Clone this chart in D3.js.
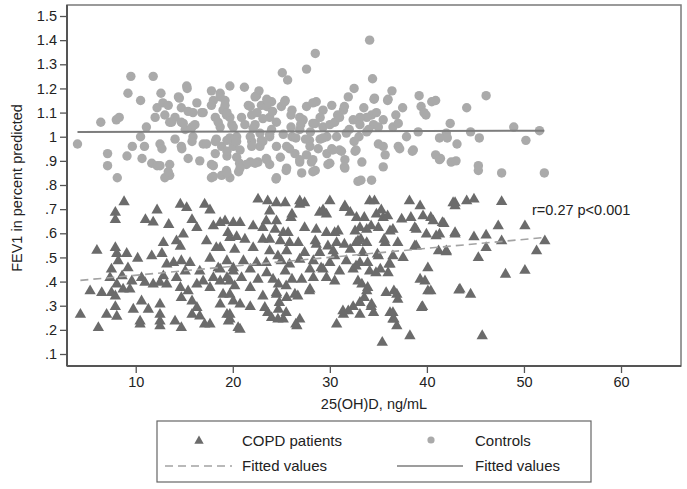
<!DOCTYPE html>
<html><head><meta charset="utf-8">
<script src="https://cdn.jsdelivr.net/npm/d3@7"></script>
<style>body{margin:0;background:#fff}svg{display:block}text{font-family:"Liberation Sans",Arial,Helvetica,sans-serif}</style>
</head><body><svg id="c" width="687" height="489"></svg>
<script>
// Controls (circles): [25(OH)D, FEV1]
const controlsX = [4.0,6.4,8.0,8.3,7.1,7.1,8.1,9.1,9.65,9.5,9.2,10.5,11.8,11.1,10.5,10.9,10.65,11.65,12.2,12.5,13.0,13.5,12.6,12.2,12.8,13.0,12.0,13.5,14.5,14.7,15.3,14.05,14.7,15.1,12.5,12.7,14.05,14.7,15.4,16.3,15.9,16.6,16.95,15.8,15.9,16.95,17.8,18.0,18.7,19.7,18.2,19.0,18.7,19.7,18.3,18.85,19.4,18.0,17.8,18.85,19.7,20.6,20.05,20.4,
15.25,21.2,14.4,18.7,22.45,13.35,17.8,19.2,21.6,22.95,15.4,16.8,19.35,20.9,21.95,13.7,14.9,16.1,18.5,19.9,21.25,22.3,15.8,17.3,18.2,19.7,20.4,21.95,22.95,14.75,18.2,19.4,20.4,17.8,20.7,21.8,22.6,18.0,19.35,13.35,13.5,
34.1,28.5,27.6,25.1,25.65,34.4,22.7,22.3,23.5,24.0,25.4,25.0,23.5,21.8,19.2,19.4,22.5,23.8,26.1,27.6,28.6,30.2,31.4,31.9,32.5,34.55,36.0,36.4,39.2,39.4,39.9,40.5,40.9,42.4,42.0,41.3,43.1,39.1,37.9,38.6,37.05,36.5,37.05,35.5,34.3,33.8,33.1,32.4,34.5,33.8,35.0,35.5,35.7,35.5,33.3,32.6,31.55,31.55,32.9,34.3,30.0,29.7,30.2,31.0,29.0,27.95,27.6,28.1,28.5,27.1,25.55,26.9,26.4,25.55,26.1,26.9,27.25,28.5,29.3,29.7,30.7,31.7,24.9,24.5,23.8,22.8,22.1,21.8,22.8,21.95,23.5,23.8,22.3,21.4,20.75,20.75,20.2,19.4,19.4,24.45,23.1,20.05,
23.6,25.35,28.25,31.5,29.3,24.1,26.0,26.9,30.8,23.1,24.5,28.25,30.0,33.1,23.8,25.2,26.5,27.9,29.3,25.85,28.8,30.3,31.2,32.7,23.45,26.9,28.25,29.8,31.5,25.5,28.25,24.5,
34.6,35.95,39.7,42.1,40.9,41.4,42.5,43.0,37.2,38.5,33.2,46.1,44.1,48.95,51.6,44.5,45.4,50.2,45.3,45.3,47.7,52.1,41.3,
27.0,28.0,30.5,32.0,33.0,34.0,35.0,31.0,29.0,26.0,24.0,27.5,32.5,34.8,33.5,36.8,37.5];
const controlsY = [0.97,1.06,1.07,1.08,0.93,0.88,0.83,0.92,0.96,1.25,1.18,1.15,1.25,1.04,1.00,0.96,0.91,0.89,0.88,0.88,0.83,0.84,1.18,1.12,1.14,1.09,1.08,1.06,1.16,1.12,1.20,1.08,1.06,1.03,0.97,0.95,0.99,0.96,0.91,1.14,1.10,0.90,1.10,1.04,1.00,0.97,1.19,1.15,1.18,1.21,1.08,1.11,1.04,1.08,0.99,0.96,0.92,0.88,0.83,0.84,0.83,0.855,0.96,1.00,
1.21,1.205,1.165,1.165,1.17,1.13,1.13,1.13,1.13,1.13,1.105,1.10,1.09,1.08,1.09,1.06,1.055,1.05,1.06,1.05,1.05,1.05,0.98,0.97,0.98,0.995,0.98,0.98,0.985,0.95,0.93,0.94,0.915,0.885,0.89,0.895,0.895,0.835,0.86,0.855,0.885,
1.40,1.345,1.28,1.265,1.235,1.24,1.19,1.165,1.155,1.145,1.15,1.125,1.125,1.125,1.15,1.10,1.10,1.08,1.11,1.125,1.145,1.13,1.11,1.165,1.20,1.155,1.155,1.19,1.17,1.125,1.09,1.145,1.15,1.055,1.015,0.995,0.97,1.02,1.00,0.945,0.96,1.04,1.055,1.07,1.09,1.08,1.08,1.07,1.05,1.02,0.97,0.96,0.925,0.875,0.895,0.94,0.905,0.87,0.815,0.82,0.89,0.93,0.95,0.945,0.99,0.96,0.925,0.895,0.86,0.85,0.87,0.895,0.93,0.96,1.00,1.03,1.07,1.055,1.04,1.00,1.00,1.015,0.915,0.96,1.00,1.015,1.035,1.00,0.96,0.96,0.905,0.885,0.89,0.885,0.87,0.945,0.985,0.985,0.85,0.825,0.98,1.04,
1.15,1.145,1.14,1.125,1.11,1.105,1.09,1.08,1.09,1.075,1.06,1.055,1.05,1.05,1.01,1.01,0.995,0.985,0.995,0.95,0.95,0.945,0.94,0.945,0.91,0.905,0.905,0.885,0.875,0.86,0.855,0.83,
1.16,1.15,1.10,0.995,0.925,0.91,0.895,0.90,0.95,0.94,0.82,1.17,1.12,1.04,1.025,1.02,0.995,0.985,0.88,0.86,0.85,0.85,0.905,
1.05,1.02,1.06,1.03,1.00,1.03,1.04,1.08,1.08,1.04,1.03,0.99,0.98,1.10,1.12,1.09,1.12];

// COPD patients (triangles): [25(OH)D, FEV1]
const copdX = [8.8,7.9,7.9,12.2,11.0,11.8,13.4,14.6,15.25,17.1,17.65,15.8,16.3,18.0,18.7,20.05,14.9,14.2,12.85,14.6,17.3,18.3,19.5,20.4,6.0,7.9,8.05,9.07,10.2,11.65,12.7,8.2,9.2,7.5,8.6,7.35,9.6,10.6,8.05,9.4,8.7,7.5,6.5,5.3,7.9,4.3,6.15,7.0,8.05,7.9,9.75,10.6,11.3,10.45,10.45,12.5,12.5,12.5,12.5,14.05,14.7,10.95,11.8,12.5,13.2,12.85,13.2,13.9,14.7,15.6,15.1,14.2,14.6,15.4,14.7,15.8,16.3,15.8,16.6,17.65,17.1,16.3,16.95,17.65,16.6,17.65,18.5,18.0,18.7,19.7,19.0,18.7,19.4,19.7,20.55,20.05,20.05,
22.6,24.5,25.4,26.9,27.4,30.0,31.55,34.1,38.2,39.3,42.7,23.8,26.1,28.95,29.65,32.1,32.75,34.8,35.5,37.4,39.6,40.65,19.2,20.75,22.1,23.1,24.35,25.7,27.4,28.6,29.65,30.85,32.6,33.8,35.0,36.2,38.75,39.95,41.3,42.9,19.7,21.25,23.1,24.9,26.75,28.5,30.7,32.9,33.8,35.7,38.75,41.2,42.0,18.7,20.2,22.1,23.8,25.55,27.4,28.95,30.35,32.1,33.4,35.0,36.5,37.55,19.4,21.1,22.45,25.0,26.9,28.3,30.0,31.7,33.1,36.2,40.1,18.7,20.05,21.8,23.5,25.4,27.95,29.3,31.0,32.4,34.1,35.2,36.0,19.4,20.9,22.6,26.1,27.1,28.3,29.65,30.5,39.3,39.8,20.2,21.8,24.7,27.95,33.3,33.8,35.8,36.9,40.1,43.4,19.7,23.1,24.5,25.55,26.7,20.75,21.8,23.3,24.7,33.1,34.3,31.9,31.4,33.1,34.5,36.2,39.45,19.7,24.0,25.2,26.9,36.5,19.55,26.6,30.7,36.9,20.75,38.25,35.4,
42.9,42.9,44.1,44.85,47.7,41.75,42.9,44.85,46.1,47.35,50.1,47.7,46.1,45.3,51.3,52.15,42.0,43.3,44.5,45.7,48.1,50.1,
23.6,26.9,29.3,31.5,26.0,23.45,24.5,30.5,33.1,25.2,23.8,25.85,28.6,29.8,31.5,32.7,24.65,30.5,23.45,25.85,29.1,32.7,24.15,25.5,32.9,24.5,26.4,27.9,24.8,23.6,25.5,24.65,26.5,31.35,32.4,
34.6,35.3,35.95,33.55,38.35,40.4,41.6,34.25,36.5,38.9,40.95,33.2,35.6,37.0,34.9,38.9,33.9,34.75,36.1,40.4,36.6,37.0,33.9,33.55,34.25,39.55,36.5,36.6];
const copdY = [0.734,0.69,0.66,0.70,0.66,0.65,0.64,0.724,0.71,0.724,0.70,0.66,0.627,0.634,0.648,0.648,0.60,0.572,0.565,0.55,0.572,0.544,0.606,0.59,0.533,0.544,0.52,0.52,0.50,0.51,0.52,0.49,0.46,0.455,0.427,0.42,0.406,0.42,0.393,0.372,0.372,0.358,0.358,0.365,0.344,0.268,0.213,0.268,0.26,0.30,0.289,0.323,0.289,0.24,0.227,0.31,0.268,0.24,0.22,0.24,0.213,0.40,0.393,0.40,0.393,0.427,0.476,0.482,0.49,0.482,0.447,0.42,0.379,0.365,0.337,0.323,0.296,0.268,0.261,0.227,0.227,0.393,0.406,0.379,0.447,0.50,0.46,0.42,0.406,0.406,0.351,0.31,0.268,0.248,0.213,0.323,0.46,
0.745,0.73,0.73,0.724,0.73,0.738,0.717,0.738,0.738,0.717,0.73,0.696,0.683,0.69,0.683,0.69,0.669,0.683,0.669,0.662,0.676,0.655,0.655,0.648,0.634,0.627,0.62,0.606,0.627,0.62,0.606,0.613,0.613,0.62,0.627,0.613,0.627,0.60,0.60,0.606,0.586,0.579,0.579,0.572,0.565,0.572,0.565,0.572,0.565,0.565,0.551,0.531,0.531,0.544,0.537,0.544,0.531,0.531,0.524,0.524,0.531,0.537,0.524,0.51,0.51,0.503,0.49,0.49,0.482,0.49,0.496,0.49,0.482,0.49,0.482,0.476,0.46,0.455,0.447,0.455,0.44,0.447,0.455,0.455,0.447,0.455,0.447,0.455,0.44,0.42,0.42,0.413,0.413,0.413,0.42,0.42,0.406,0.413,0.406,0.386,0.379,0.393,0.372,0.393,0.365,0.358,0.351,0.365,0.372,0.351,0.344,0.351,0.337,0.344,0.31,0.30,0.296,0.289,0.317,0.31,0.282,0.268,0.268,0.275,0.275,0.296,0.268,0.254,0.248,0.248,0.248,0.24,0.22,0.227,0.22,0.206,0.179,0.152,
0.73,0.717,0.738,0.745,0.735,0.644,0.60,0.589,0.596,0.634,0.634,0.572,0.544,0.503,0.531,0.572,0.527,0.368,0.351,0.179,0.434,0.45,
0.738,0.738,0.70,0.71,0.669,0.655,0.655,0.606,0.627,0.606,0.579,0.565,0.558,0.551,0.558,0.565,0.51,0.51,0.482,0.476,0.46,0.468,0.413,0.386,0.406,0.358,0.351,0.365,0.317,0.275,0.275,0.248,0.227,0.282,0.30,
0.738,0.70,0.676,0.669,0.669,0.669,0.648,0.634,0.62,0.62,0.593,0.579,0.579,0.565,0.517,0.551,0.482,0.44,0.476,0.365,0.365,0.33,0.379,0.337,0.30,0.30,0.275,0.248];

// Fitted lines (endpoints over data range)
const fitCopdX = [4.3, 52.2];
const fitCopdY = [0.405, 0.583];
const fitCtrlX = [4.0, 52.1];
const fitCtrlY = [1.0195, 1.025];

const xTicks = [10, 20, 30, 40, 50, 60];
const yTicks = [0.1,0.2,0.3,0.4,0.5,0.6,0.7,0.8,0.9,1.0,1.1,1.2,1.3,1.4,1.5];

const svg = d3.select("#c");
const L = 67, R = 681, T = 5, B = 366;
const x = d3.scaleLinear().domain([2.92, 66.18]).range([L, R]);
const y = d3.scaleLinear().domain([0.0503, 1.5456]).range([B, T]);

const fmtY = v => { const s = d3.format(".1f")(v); return s === "1.0" ? "1" : (v < 1 ? s.slice(1) : s); };

// plot region outline
svg.append("rect").attr("x", L).attr("y", T).attr("width", R - L).attr("height", B - T)
  .attr("fill", "none").attr("stroke", "#7a7a7a").attr("stroke-width", 1.5);

// axes
const ax = svg.append("g").attr("transform", `translate(${L},0)`)
  .call(d3.axisLeft(y).tickValues(yTicks).tickFormat(fmtY).tickSize(7).tickPadding(3));
const bx = svg.append("g").attr("transform", `translate(0,${B})`)
  .call(d3.axisBottom(x).tickValues(xTicks).tickFormat(d3.format("d")).tickSize(7).tickPadding(4));
[ax, bx].forEach(g => {
  g.select(".domain").attr("stroke", "#555").attr("stroke-width", 2);
  g.selectAll(".tick line").attr("stroke", "#555").attr("stroke-width", 1.3);
  g.selectAll(".tick text").attr("fill", "#222").style("font-size", "14.5px")
    .style("font-family", '"Liberation Sans",Arial,sans-serif');
});
bx.select(".domain").attr("d", `M${L},0H${R}`);
ax.select(".domain").attr("d", `M0,${T}V${B}`);

// controls
svg.append("g").selectAll("circle").data(controlsX).join("circle")
  .attr("cx", (d) => x(d)).attr("cy", (d, i) => y(controlsY[i])).attr("r", 4.7)
  .attr("fill", "#aaaaaa");

// COPD triangles
const tri = d3.symbol().type(d3.symbolTriangle).size(56);
svg.append("g").selectAll("path").data(copdX).join("path")
  .attr("d", tri).attr("transform", (d, i) => `translate(${x(d)},${y(copdY[i]) + 1})`)
  .attr("fill", "#6b6b6b");

// fitted lines
const line = d3.line();
svg.append("path").attr("d", line(fitCtrlX.map((v, i) => [x(v), y(fitCtrlY[i])])))
  .attr("stroke", "#7d7d7d").attr("stroke-width", 2).attr("fill", "none");
svg.append("path").attr("d", line(fitCopdX.map((v, i) => [x(v), y(fitCopdY[i])])))
  .attr("stroke", "#a3a3a3").attr("stroke-width", 1.6).attr("stroke-dasharray", "8,5").attr("fill", "none");

// annotation
svg.append("text").attr("x", 532).attr("y", 215).style("font-size", "14.5px").attr("fill", "#222")
  .text("r=0.27 p<0.001");

// axis titles
svg.append("text").attr("x", (L + R) / 2).attr("y", 409).attr("text-anchor", "middle")
  .style("font-size", "14.5px").attr("fill", "#222").text("25(OH)D, ng/mL");
svg.append("text").attr("transform", "translate(22,188) rotate(-90)").attr("text-anchor", "middle")
  .style("font-size", "14.5px").attr("fill", "#222").text("FEV1 in percent predicted");

// legend
const lg = svg.append("g");
lg.append("rect").attr("x", 157).attr("y", 421).attr("width", 434).attr("height", 61)
  .attr("fill", "#fff").attr("stroke", "#666").attr("stroke-width", 1.2);
lg.append("path").attr("d", d3.symbol().type(d3.symbolTriangle).size(38)).attr("transform", "translate(199,441)").attr("fill", "#6b6b6b");
lg.append("circle").attr("cx", 431).attr("cy", 440).attr("r", 3.6).attr("fill", "#aaaaaa");
lg.append("line").attr("x1", 165).attr("x2", 232).attr("y1", 466).attr("y2", 466)
  .attr("stroke", "#a3a3a3").attr("stroke-width", 1.6).attr("stroke-dasharray", "8,5");
lg.append("line").attr("x1", 397).attr("x2", 463).attr("y1", 466).attr("y2", 466)
  .attr("stroke", "#7d7d7d").attr("stroke-width", 1.6);
[["COPD patients", 242, 446], ["Controls", 475, 446], ["Fitted values", 242, 471], ["Fitted values", 475, 471]]
  .forEach(([t, tx, ty]) => lg.append("text").attr("x", tx).attr("y", ty).style("font-size", "15px").attr("fill", "#222").text(t));
</script></body></html>
